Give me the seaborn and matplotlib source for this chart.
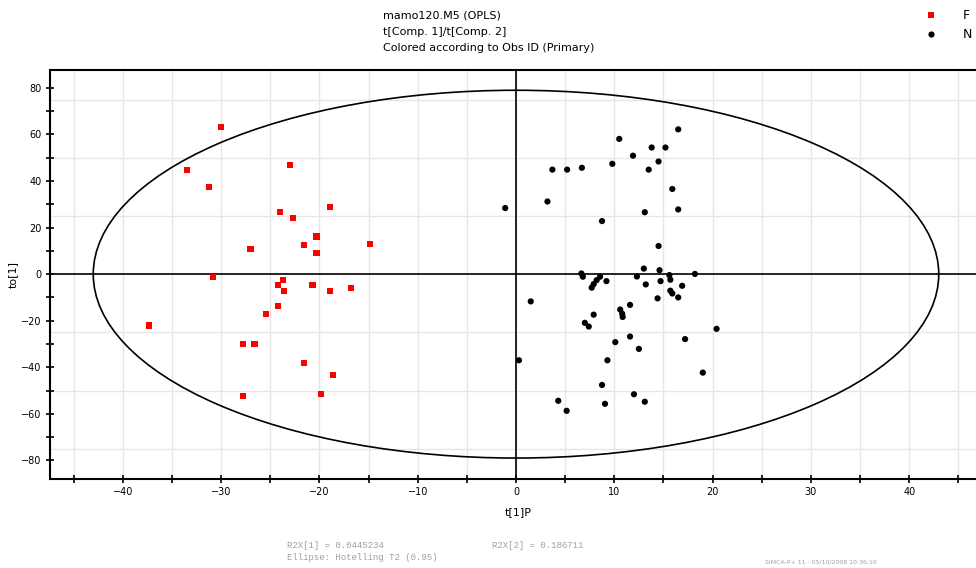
import numpy as np
import pandas as pd
import matplotlib
matplotlib.use("Agg")
import matplotlib.pyplot as plt
from matplotlib.patches import Ellipse
import seaborn as sns

# ---- data ----
f_x = [-30.0, -23.0, -33.5, -31.2, -24.0, -22.7, -18.9, -20.3, -21.6, -14.85,
       -27.0, -20.3, -30.8, -23.7, -24.2, -20.7, -23.6, -18.9, -16.8, -24.2,
       -25.4, -37.3, -27.8, -26.6, -21.6, -18.6, -27.8, -19.8]
f_y = [63.2, 47.0, 44.9, 37.5, 26.6, 24.1, 28.8, 16.2, 12.5, 12.8,
       10.8, 9.1, -1.1, -2.6, -4.6, -4.6, -7.4, -7.4, -5.8, -13.7,
       -17.1, -22.1, -30.1, -30.1, -38.3, -43.3, -52.4, -51.6]
n_x = [16.5, 10.5, 13.8, 15.2, 11.9, 9.8, 14.5, 3.7, 5.2, 6.7,
       13.5, 15.9, -1.1, 3.2, 16.5, 13.1, 8.75, 14.5, 6.65, 6.8,
       8.55, 8.2, 7.9, 7.7, 9.2, 13.0, 12.3, 14.6, 13.2, 14.7,
       15.6, 15.7, 18.2, 16.9, 15.7, 15.9, 16.5, 14.4, 1.5, 11.6,
       10.6, 10.8, 7.9, 10.85, 7.0, 7.4, 20.4, 11.6, 10.1, 17.2,
       12.5, 0.3, 9.3, 19.0, 8.75, 4.3, 12.0, 9.05, 13.1, 5.15]
n_y = [62.2, 58.1, 54.4, 54.4, 50.9, 47.4, 48.4, 44.9, 44.9, 45.7,
       44.9, 36.6, 28.4, 31.2, 27.8, 26.6, 22.8, 12.1, 0.3, -1.1,
       -1.1, -2.6, -4.3, -5.8, -3.0, 2.4, -1.0, 1.7, -4.4, -3.0,
       -0.4, -2.4, 0.1, -5.0, -7.1, -8.3, -10.0, -10.4, -11.7, -13.2,
       -15.2, -17.0, -17.4, -18.4, -20.9, -22.5, -23.5, -26.8, -29.2, -27.9,
       -32.1, -37.0, -37.0, -42.3, -47.6, -54.4, -51.6, -55.7, -54.8, -58.7]
ellipse_a = 43.0   # Hotelling T2 semi-axis along t[1]
ellipse_b = 79.0   # semi-axis along to[1]

title_lines = ["mamo120.M5 (OPLS)",
               "t[Comp. 1]/t[Comp. 2]",
               "Colored according to Obs ID (Primary)"]
x_ticks = [-40, -30, -20, -10, 0, 10, 20, 30, 40]
y_ticks = [-80, -60, -40, -20, 0, 20, 40, 60, 80]

df = pd.DataFrame({
    "t1": f_x + n_x,
    "to1": f_y + n_y,
    "group": ["F"] * len(f_x) + ["N"] * len(n_x),
})

# ---- figure ----
sns.set_style("white")
plt.rcParams["font.family"] = ["DejaVu Sans"]
plt.rcParams["text.color"] = "black"
W, H = 976, 568
fig = plt.figure(figsize=(W / 100, H / 100), dpi=100)
ax = fig.add_axes([50 / W, 1 - 479 / H, 932 / W, 409 / H])

ax.set_xlim(-47.4, 47.4)
ax.set_ylim(-88.0, 87.7)

# light grid
for gx in np.arange(-45, 50, 5):
    ax.axvline(gx, color="#e6e6e6", lw=1.0, zorder=0)
for gy in [-75, -50, -25, 25, 50, 75]:
    ax.axhline(gy, color="#e6e6e6", lw=1.0, zorder=0)

ax.axhline(0, color="black", lw=1.2, zorder=1)
ax.axvline(0, color="black", lw=1.2, zorder=1)
ax.add_patch(Ellipse((0, 0), 2 * ellipse_a, 2 * ellipse_b, fill=False,
                     edgecolor="black", lw=1.2, zorder=1))

sns.scatterplot(data=df, x="t1", y="to1", hue="group", style="group",
                palette={"F": "#ff0000", "N": "black"},
                markers={"F": "s", "N": "o"}, s=20, linewidth=0,
                ax=ax, zorder=3)

ax.set_xticks(x_ticks)
ax.set_yticks(y_ticks)
ax.set_xticks(np.arange(-45, 50, 10), minor=True)
ax.set_yticks(np.arange(-70, 80, 20), minor=True)
ax.tick_params(which="both", direction="inout", length=6, width=1.2,
               labelsize=7, colors="black", pad=3)
ax.tick_params(which="both", top=False, right=False, bottom=True, left=True)
for sp in ax.spines.values():
    sp.set_color("black")
    sp.set_linewidth(1.5)

ax.set_xlabel("")
ax.set_ylabel("")
fig.text(505 / W, 1 - 512 / H, "t[1]P", fontsize=8, va="center", ha="left")
fig.text(13 / W, 1 - 275 / H, "to[1]", fontsize=8, va="center", ha="center",
         rotation=90)

for i, line in enumerate(title_lines):
    fig.text(383 / W, 1 - (16 + 16 * i) / H, line, fontsize=8,
             va="center", ha="left")

sns.move_legend(ax, "center left", bbox_to_anchor=(918 / W, 1 - 25 / H),
                bbox_transform=fig.transFigure, frameon=False, title=None,
                fontsize=9, handletextpad=1.6, labelspacing=0.5,
                borderpad=0, borderaxespad=0)

mono = dict(family="Liberation Mono", color="#a0a0a0", fontsize=6.5,
            va="center", ha="left")
fig.text(287 / W, 1 - 545 / H, "R2X[1] = 0.0445234", **mono)
fig.text(492 / W, 1 - 545 / H, "R2X[2] = 0.186711", **mono)
fig.text(287 / W, 1 - 557 / H, "Ellipse: Hotelling T2 (0.95)", **mono)
fig.text(765 / W, 1 - 562 / H, "SIMCA-P+ 11 - 05/10/2008 10:36:10",
         family="DejaVu Sans", color="#a0a0a0", fontsize=4.5,
         va="center", ha="left")

fig.savefig("out.png", dpi=100)
